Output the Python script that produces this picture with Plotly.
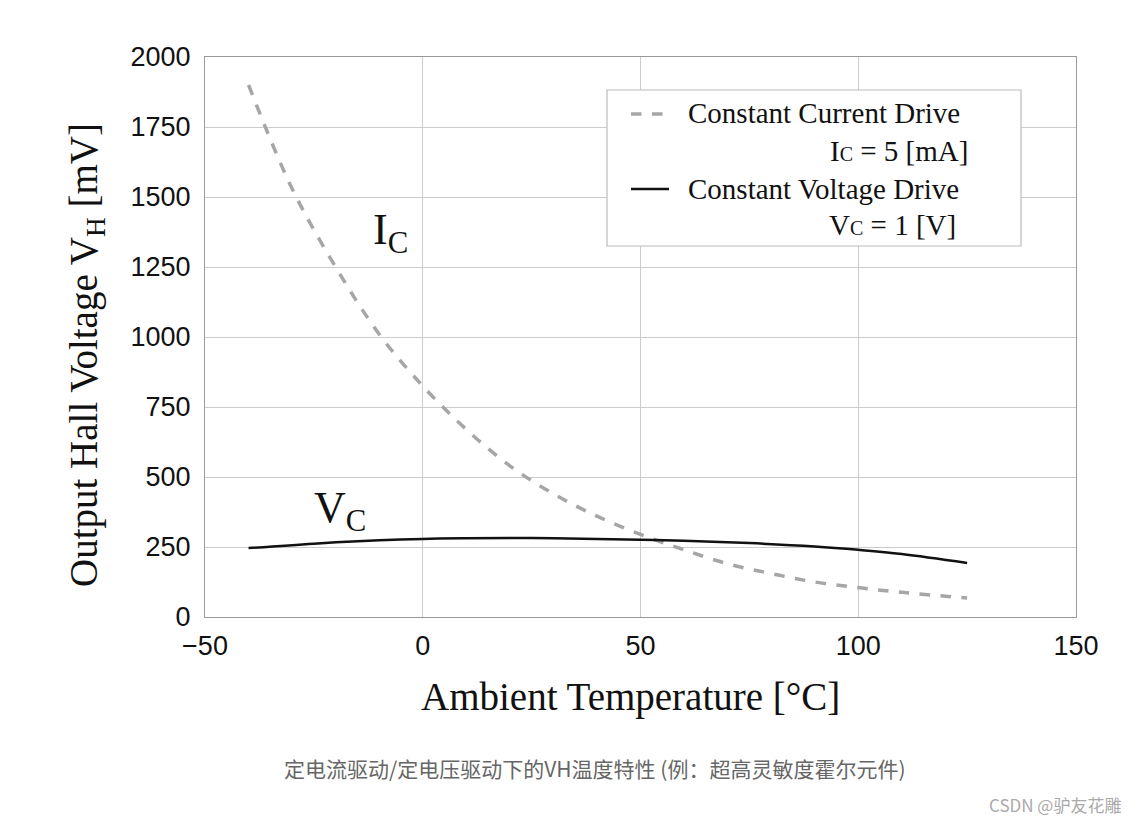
import plotly.graph_objects as go

# Data
temp_ic = [-40, -30, -20, -10, 0, 10, 20, 30, 40, 50, 60, 70, 80, 90, 100, 110, 125]
vh_ic = [1900, 1530, 1250, 1010, 825, 670, 540, 440, 360, 295, 240, 190, 155, 125, 105, 88, 68]
temp_vc = [-40, -25, -10, 0, 10, 25, 40, 50, 60, 75, 90, 100, 110, 125]
vh_vc = [246, 262, 274, 279, 281, 282, 279, 276, 272, 264, 252, 240, 225, 193]

x_ticks = [-50, 0, 50, 100, 150]
y_ticks = [0, 250, 500, 750, 1000, 1250, 1500, 1750, 2000]

SERIF = "Liberation Serif, Times New Roman, serif"
SANS = "Liberation Sans, Arial, sans-serif"
CJK = "Noto Sans CJK SC, sans-serif"

fig = go.Figure()
fig.add_trace(go.Scatter(x=temp_ic, y=vh_ic, mode="lines", line=dict(color="#a6a6a6", width=3.5, dash="dash", shape="spline"),
                         name="Constant Current Drive", showlegend=False))
fig.add_trace(go.Scatter(x=temp_vc, y=vh_vc, mode="lines", line=dict(color="#111111", width=2.5, shape="spline"),
                         name="Constant Voltage Drive", showlegend=False))

axis_common = dict(showgrid=True, gridcolor="#cccccc", gridwidth=1, showline=True, linecolor="#999999",
                   linewidth=1.2, mirror=True, zeroline=False, ticks="", tickfont=dict(family=SANS, size=27, color="#111"))
fig.update_xaxes(range=[-50, 150], tickvals=x_ticks, ticklabelstandoff=4, **axis_common)
fig.update_yaxes(range=[0, 2000], tickvals=y_ticks, ticklabelstandoff=8, **axis_common)

W, H = 1137, 823
l, r, t, b = 205, 61, 57, 206
pw, ph = W - l - r, H - t - b
def px(x):
    return (x - l) / pw
def py(y):
    return 1 - (y - t) / ph

# Axis titles
fig.add_annotation(xref="paper", yref="paper", x=px(630), y=py(697), text="Ambient Temperature [°C]", showarrow=False,
                   xanchor="center", yanchor="middle", font=dict(family=SERIF, size=39, color="#111"))
fig.add_annotation(xref="paper", yref="paper", x=px(86), y=py(355), text="Output Hall Voltage V<sub>H</sub> [mV]", showarrow=False,
                   textangle=-90, xanchor="center", yanchor="middle", font=dict(family=SERIF, size=39, color="#111"))

# Curve labels
fig.add_annotation(x=-7.5, y=1375, text="I<sub>C</sub>", showarrow=False, font=dict(family=SERIF, size=44, color="#111"))
fig.add_annotation(x=-19, y=380, text="V<sub>C</sub>", showarrow=False, font=dict(family=SERIF, size=44, color="#111"))

# Legend box
fig.add_shape(type="rect", xref="paper", yref="paper", x0=px(607), x1=px(1021), y0=py(246), y1=py(90),
              line=dict(color="#bbbbbb", width=1.2), fillcolor="white", layer="above")
fig.add_shape(type="line", xref="paper", yref="paper", x0=px(631), x1=px(669), y0=py(114), y1=py(114),
              line=dict(color="#a6a6a6", width=3.5, dash="dash"), layer="above")
fig.add_shape(type="line", xref="paper", yref="paper", x0=px(631), x1=px(669), y0=py(189), y1=py(189),
              line=dict(color="#111111", width=2.5), layer="above")
leg_font = dict(family=SERIF, size=29, color="#111")
fig.add_annotation(xref="paper", yref="paper", x=px(686), y=py(113), text="Constant Current Drive", showarrow=False,
                   xanchor="left", yanchor="middle", font=leg_font)
fig.add_annotation(xref="paper", yref="paper", x=px(970), y=py(151), text="I<span style='font-size:20px'>C</span> = 5 [mA]", showarrow=False,
                   xanchor="right", yanchor="middle", font=leg_font)
fig.add_annotation(xref="paper", yref="paper", x=px(686), y=py(189), text="Constant Voltage Drive", showarrow=False,
                   xanchor="left", yanchor="middle", font=leg_font)
fig.add_annotation(xref="paper", yref="paper", x=px(958), y=py(225), text="V<span style='font-size:20px'>C</span> = 1 [V]", showarrow=False,
                   xanchor="right", yanchor="middle", font=leg_font)

# Caption and watermark
fig.add_annotation(xref="paper", yref="paper", x=px(595), y=py(768), text="定电流驱动/定电压驱动下的VH温度特性 (例：超高灵敏度霍尔元件)",
                   showarrow=False, xanchor="center", yanchor="middle", font=dict(family=CJK, size=21, color="#666666"))
fig.add_annotation(xref="paper", yref="paper", x=px(1123), y=py(804), text="CSDN @驴友花雕",
                   showarrow=False, xanchor="right", yanchor="middle", font=dict(family=CJK, size=17, color="#aaaaaa"))

fig.update_layout(width=W, height=H, margin=dict(l=l, r=r, t=t, b=b), plot_bgcolor="white", paper_bgcolor="white",
                  showlegend=False)
fig.write_html("out.html")
